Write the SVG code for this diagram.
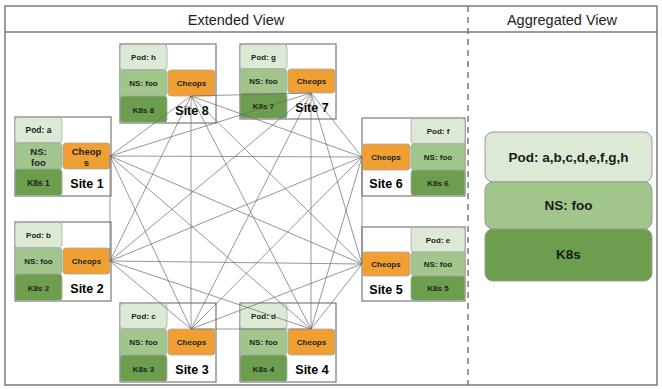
<svg xmlns="http://www.w3.org/2000/svg" width="662" height="389" viewBox="0 0 662 389">
<style>
.frame{fill:none;stroke:#7a7a7a;stroke-width:1.5}
.box{fill:#fff;stroke:#7a7a7a;stroke-width:1.2}
.pod{fill:#dbe9d5;stroke:#a8a8a8;stroke-width:0.8}
.ns{fill:#a1c68b;stroke:#a8a8a8;stroke-width:0.8}
.k8s{fill:#6c9e4e;stroke:#a8a8a8;stroke-width:0.8}
.ch{fill:#f0a033;stroke:#a8a8a8;stroke-width:0.8}
.t{font-family:"Liberation Sans",Arial,sans-serif;font-weight:bold;font-size:8px;fill:#222;text-anchor:middle}
.site{font-family:"Liberation Sans",Arial,sans-serif;font-weight:bold;font-size:12.5px;fill:#000;text-anchor:middle}
.hdr{font-family:"Liberation Sans",Arial,sans-serif;font-size:14.5px;fill:#222;text-anchor:middle}
.agg{font-family:"Liberation Sans",Arial,sans-serif;font-weight:bold;font-size:13.5px;fill:#1a1a1a;text-anchor:middle}
.ln{stroke:#6a6a6a;stroke-width:0.7;fill:none}
</style>
<rect width="662" height="389" fill="#fff"/>
<g id="frame">
<rect class="frame" x="5" y="6" width="652" height="379"/>
<line class="frame" x1="5" y1="32" x2="657" y2="32"/>
<line x1="468" y1="6" x2="468" y2="385" stroke="#7a7a7a" stroke-width="1.5" stroke-dasharray="6 5"/>
<text class="hdr" x="236" y="25">Extended View</text>
<text class="hdr" x="562" y="25">Aggregated View</text>
</g>
<g id="site1" transform="translate(15,117)">
<rect class="box" x="0" y="0" width="96" height="79"/>
<rect class="pod" x="0" y="0.5" width="47" height="25" rx="3"/>
<rect class="ns" x="0" y="26" width="47" height="26" rx="3"/>
<rect class="k8s" x="0" y="52" width="47" height="26.5" rx="3"/>
<rect class="ch" x="48" y="26" width="47" height="26" rx="3"/>
<text class="t" x="23.5" y="16" style="font-size:8.5px">Pod: a</text>
<text class="t" x="23.5" y="38" style="font-size:9.5px">NS:</text>
<text class="t" x="23.5" y="49" style="font-size:9.5px">foo</text>
<text class="t" x="23.5" y="68.5" style="font-size:8.5px">K8s 1</text>
<text class="t" x="71.5" y="38" style="font-size:9.5px">Cheop</text>
<text class="t" x="71.5" y="49" style="font-size:9.5px">s</text>
<text class="site" x="72" y="71">Site 1</text>
</g>
<g id="site2" transform="translate(15,222)">
<rect class="box" x="0" y="0" width="96" height="79"/>
<rect class="pod" x="0" y="0.5" width="47" height="25" rx="3"/>
<rect class="ns" x="0" y="26" width="47" height="26" rx="3"/>
<rect class="k8s" x="0" y="52" width="47" height="26.5" rx="3"/>
<rect class="ch" x="48" y="26" width="47" height="26" rx="3"/>
<text class="t" x="23.5" y="16">Pod: b</text>
<text class="t" x="23.5" y="42">NS: foo</text>
<text class="t" x="23.5" y="68.5">K8s 2</text>
<text class="t" x="71.5" y="42">Cheops</text>
<text class="site" x="72" y="71">Site 2</text>
</g>
<g id="site8" transform="translate(120,44)">
<rect class="box" x="0" y="0" width="96" height="79"/>
<rect class="pod" x="0" y="0.5" width="47" height="25" rx="3"/>
<rect class="ns" x="0" y="26" width="47" height="26" rx="3"/>
<rect class="k8s" x="0" y="52" width="47" height="26.5" rx="3"/>
<rect class="ch" x="48" y="26" width="47" height="26" rx="3"/>
<text class="t" x="23.5" y="16">Pod: h</text>
<text class="t" x="23.5" y="42">NS: foo</text>
<text class="t" x="23.5" y="68.5">K8s 8</text>
<text class="t" x="71.5" y="42">Cheops</text>
<text class="site" x="72" y="71">Site 8</text>
</g>
<g id="site7" transform="translate(240,44)">
<rect class="box" x="0" y="0" width="96" height="75"/>
<rect class="pod" x="0" y="0.5" width="47" height="24" rx="3"/>
<rect class="ns" x="0" y="25" width="47" height="24" rx="3"/>
<rect class="k8s" x="0" y="49" width="47" height="25.5" rx="3"/>
<rect class="ch" x="48" y="25" width="47" height="24" rx="3"/>
<text class="t" x="23.5" y="15.5">Pod: g</text>
<text class="t" x="23.5" y="40">NS: foo</text>
<text class="t" x="23.5" y="65">K8s 7</text>
<text class="t" x="71.5" y="40">Cheops</text>
<text class="site" x="72" y="68">Site 7</text>
</g>
<g id="site6" transform="translate(362,118)">
<rect class="box" x="0" y="0" width="103" height="78"/>
<rect class="pod" x="49" y="0.5" width="54" height="25" rx="3"/>
<rect class="ns" x="49" y="26" width="54" height="26" rx="3"/>
<rect class="k8s" x="49" y="52" width="54" height="25.5" rx="3"/>
<rect class="ch" x="0" y="26" width="48" height="26" rx="3"/>
<text class="t" x="76" y="16">Pod: f</text>
<text class="t" x="76" y="42">NS: foo</text>
<text class="t" x="76" y="68">K8s 6</text>
<text class="t" x="24" y="42">Cheops</text>
<text class="site" x="24" y="70">Site 6</text>
</g>
<g id="site5" transform="translate(362,227)">
<rect class="box" x="0" y="0" width="103" height="74"/>
<rect class="pod" x="49" y="0.5" width="54" height="24.5" rx="3"/>
<rect class="ns" x="49" y="25" width="54" height="24" rx="3"/>
<rect class="k8s" x="49" y="49" width="54" height="24.5" rx="3"/>
<rect class="ch" x="0" y="25" width="48" height="24" rx="3"/>
<text class="t" x="76" y="15.5">Pod: e</text>
<text class="t" x="76" y="40">NS: foo</text>
<text class="t" x="76" y="64">K8s 5</text>
<text class="t" x="24" y="40">Cheops</text>
<text class="site" x="24" y="67">Site 5</text>
</g>
<g id="site3" transform="translate(120,303)">
<rect class="box" x="0" y="0" width="96" height="79"/>
<rect class="pod" x="0" y="0.5" width="47" height="25" rx="3"/>
<rect class="ns" x="0" y="26" width="47" height="26" rx="3"/>
<rect class="k8s" x="0" y="52" width="47" height="26.5" rx="3"/>
<rect class="ch" x="48" y="26" width="47" height="26" rx="3"/>
<text class="t" x="23.5" y="16">Pod: c</text>
<text class="t" x="23.5" y="42">NS: foo</text>
<text class="t" x="23.5" y="68.5">K8s 3</text>
<text class="t" x="71.5" y="42">Cheops</text>
<text class="site" x="72" y="71">Site 3</text>
</g>
<g id="site4" transform="translate(240,303)">
<rect class="box" x="0" y="0" width="96" height="79"/>
<rect class="pod" x="0" y="0.5" width="47" height="25" rx="3"/>
<rect class="ns" x="0" y="26" width="47" height="26" rx="3"/>
<rect class="k8s" x="0" y="52" width="47" height="26.5" rx="3"/>
<rect class="ch" x="48" y="26" width="47" height="26" rx="3"/>
<text class="t" x="23.5" y="16">Pod: d</text>
<text class="t" x="23.5" y="42">NS: foo</text>
<text class="t" x="23.5" y="68.5">K8s 4</text>
<text class="t" x="71.5" y="42">Cheops</text>
<text class="site" x="72" y="71">Site 4</text>
</g>
<g id="connectors">
<line class="ln" x1="110" y1="156" x2="110" y2="261"/>
<line class="ln" x1="110" y1="156" x2="191" y2="96"/>
<line class="ln" x1="110" y1="156" x2="311" y2="93"/>
<line class="ln" x1="110" y1="156" x2="362" y2="157"/>
<line class="ln" x1="110" y1="156" x2="362" y2="264"/>
<line class="ln" x1="110" y1="156" x2="191" y2="329"/>
<line class="ln" x1="110" y1="156" x2="311" y2="329"/>
<line class="ln" x1="110" y1="261" x2="191" y2="96"/>
<line class="ln" x1="110" y1="261" x2="311" y2="93"/>
<line class="ln" x1="110" y1="261" x2="362" y2="157"/>
<line class="ln" x1="110" y1="261" x2="362" y2="264"/>
<line class="ln" x1="110" y1="261" x2="191" y2="329"/>
<line class="ln" x1="110" y1="261" x2="311" y2="329"/>
<line class="ln" x1="191" y1="96" x2="311" y2="93"/>
<line class="ln" x1="191" y1="96" x2="362" y2="157"/>
<line class="ln" x1="191" y1="96" x2="362" y2="264"/>
<line class="ln" x1="191" y1="96" x2="191" y2="329"/>
<line class="ln" x1="191" y1="96" x2="311" y2="329"/>
<line class="ln" x1="311" y1="93" x2="362" y2="157"/>
<line class="ln" x1="311" y1="93" x2="362" y2="264"/>
<line class="ln" x1="311" y1="93" x2="191" y2="329"/>
<line class="ln" x1="311" y1="93" x2="311" y2="329"/>
<line class="ln" x1="362" y1="157" x2="362" y2="264"/>
<line class="ln" x1="362" y1="157" x2="191" y2="329"/>
<line class="ln" x1="362" y1="157" x2="311" y2="329"/>
<line class="ln" x1="362" y1="264" x2="191" y2="329"/>
<line class="ln" x1="362" y1="264" x2="311" y2="329"/>
<line class="ln" x1="191" y1="329" x2="311" y2="329"/>
</g>
<g id="aggregated">
<rect class="pod" x="485" y="132" width="167" height="50" rx="8" style="stroke:#999;stroke-width:1"/>
<rect class="ns" x="485" y="182" width="167" height="47" rx="8" style="stroke:#999;stroke-width:1"/>
<rect class="k8s" x="485" y="229" width="167" height="52" rx="8" style="stroke:#999;stroke-width:1"/>
<text class="agg" x="568.5" y="162">Pod: a,b,c,d,e,f,g,h</text>
<text class="agg" x="568.5" y="210">NS: foo</text>
<text class="agg" x="568.5" y="259">K8s</text>
</g>
</svg>
